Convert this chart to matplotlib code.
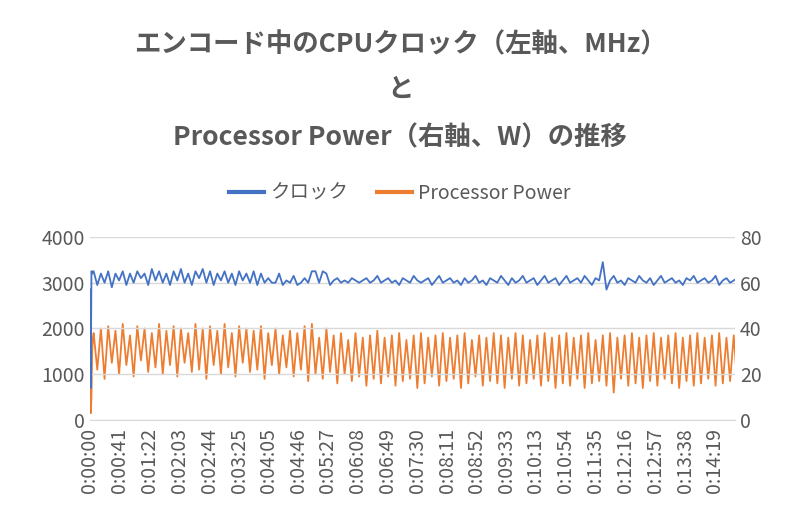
import matplotlib.pyplot as plt

plt.rcParams['font.family'] = ['Noto Sans CJK JP', 'DejaVu Sans']

# startup seconds (1 s step), then 5 s samples from 5 s to 895 s
start_t = [0, 1, 2, 3, 4]
start_clock = [2850, 700, 3250, 3200, 3250]
start_power = [15, 3, 10, 30, 36]

clock = [
    3250, 2950, 3200, 3000, 3250, 2900, 3200, 3050, 3250, 2950,
    3200, 3000, 3250, 3100, 3200, 2950, 3300, 3050, 3250, 3000,
    3200, 2950, 3250, 3050, 3300, 3000, 3200, 2950, 3250, 3100,
    3300, 3000, 3250, 2950, 3200, 3050, 3250, 3000, 3200, 2950,
    3250, 3050, 3200, 3000, 3250, 2950, 3200, 3000, 3100, 3000,
    3000, 3200, 2950, 3050, 3000, 3150, 2950, 3000, 3100, 3000,
    3250, 3250, 3000, 3250, 3200, 2950, 3050, 3100, 3000, 3050,
    3000, 3100, 3050, 3000, 3050, 3100, 3000, 3050, 3150, 3000,
    3050, 3100, 3000, 3050, 2950, 3100, 3050, 3000, 3150, 3050,
    3000, 3050, 3100, 2950, 3050, 3150, 3000, 3050, 3100, 3000,
    3050, 2950, 3100, 3000, 3050, 3150, 3000, 3050, 2950, 3100,
    3050, 3000, 3150, 3050, 2950, 3100, 3000, 3050, 3150, 3000,
    3050, 3100, 2950, 3050, 3150, 3000, 3050, 3100, 2950, 3050,
    3150, 3000, 3050, 3100, 3000, 3150, 3050, 2950, 3100, 3050,
    3450, 2850, 3050, 3150, 3000, 3050, 2950, 3100, 3050, 3000,
    3150, 3050, 3000, 3100, 2950, 3050, 3150, 3000, 3050, 3100,
    3000, 3050, 2950, 3100, 3050, 3150, 3000, 3050, 3100, 3000,
    3050, 3150, 2950, 3050, 3100, 3000, 3050, 3100, 3050]

power = [
    38, 22, 40, 18, 41, 25, 39, 20, 42, 24,
    37, 19, 41, 26, 40, 21, 38, 23, 42, 20,
    39, 24, 41, 19, 40, 25, 38, 21, 42, 22,
    40, 18, 41, 24, 39, 20, 42, 23, 38, 19,
    41, 25, 40, 21, 39, 22, 41, 18, 38, 24,
    40, 20, 37, 23, 39, 19, 38, 22, 41, 17,
    42, 20, 36, 18, 40, 21, 37, 16, 38, 20,
    35, 17, 38, 19, 36, 15, 37, 18, 39, 16,
    36, 19, 37, 15, 38, 17, 35, 18, 37, 14,
    38, 16, 36, 19, 37, 15, 38, 17, 36, 18,
    37, 14, 38, 16, 35, 19, 37, 15, 36, 17,
    38, 16, 37, 14, 36, 18, 38, 15, 37, 16,
    35, 18, 37, 15, 38, 17, 36, 14, 37, 16,
    38, 15, 36, 18, 37, 14, 38, 16, 35, 17,
    37, 15, 38, 12, 36, 18, 37, 15, 38, 16,
    36, 14, 37, 17, 38, 15, 36, 18, 37, 16,
    38, 14, 36, 17, 37, 15, 38, 16, 36, 18,
    37, 15, 38, 16, 36, 17, 37, 15, 38]

t = start_t + [5 * (i + 1) for i in range(len(clock))]
clock_all = start_clock + clock
power_all = start_power + power

tick_labels = ['0:00:00', '0:00:41', '0:01:22', '0:02:03', '0:02:44', '0:03:25', '0:04:05',
               '0:04:46', '0:05:27', '0:06:08', '0:06:49', '0:07:30', '0:08:11', '0:08:52',
               '0:09:33', '0:10:13', '0:10:54', '0:11:35', '0:12:16', '0:12:57', '0:13:38',
               '0:14:19']
tick_secs = [int(s.split(':')[1]) * 60 + int(s.split(':')[2]) for s in tick_labels]

blue = '#4472C4'
orange = '#ED7D31'
grey = '#595959'

fig = plt.figure(figsize=(8, 5.26), dpi=100)
ax = fig.add_axes([0.1125, 0.2015, 0.8065, 0.348])
ax2 = ax.twinx()

ax2.plot(t, power_all, color=orange, lw=1.3, zorder=2)
ax.plot(t, clock_all, color=blue, lw=1.3, zorder=3)
ax.set_zorder(ax2.get_zorder() + 1)
ax.patch.set_visible(False)

ax.set_ylim(0, 4000)
ax.set_yticks(range(0, 4001, 1000))
ax2.set_ylim(0, 80)
ax2.set_yticks(range(0, 81, 20))
ax.set_xlim(0, 887)
ax.set_xticks(tick_secs)
ax.set_xticklabels(tick_labels, rotation=90)
ax.yaxis.grid(True, color='#D9D9D9', lw=1)
ax.set_axisbelow(True)

for a in (ax, ax2):
    for s in a.spines.values():
        s.set_visible(False)
    a.tick_params(length=0, labelsize=14, colors=grey)
ax.tick_params(axis='x', pad=6)
ax.spines['bottom'].set_visible(True)
ax.spines['bottom'].set_color('#D9D9D9')

fig.text(0.5, 0.915, 'エンコード中のCPUクロック（左軸、MHz）', ha='center', va='center',
         fontsize=19, fontweight='bold', color=grey)
fig.text(0.5, 0.83, 'と', ha='center', va='center', fontsize=19, fontweight='bold', color=grey)
fig.text(0.5, 0.737, 'Processor Power（右軸、W）の推移', ha='center', va='center',
         fontsize=19, fontweight='bold', color=grey)

h1 = plt.Line2D([], [], color=blue, lw=3)
h2 = plt.Line2D([], [], color=orange, lw=3)
fig.legend([h1, h2], ['クロック', 'Processor Power'], loc='center', bbox_to_anchor=(0.5, 0.633),
           ncol=2, frameon=False, fontsize=14, labelcolor=grey, handlelength=1.8,
           handletextpad=0.3, columnspacing=1.5)

fig.savefig('out.png', dpi=100)
